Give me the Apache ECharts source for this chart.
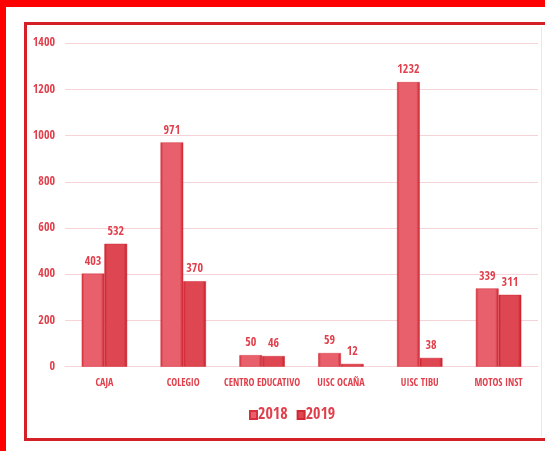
<!DOCTYPE html>
<html><head><meta charset="utf-8">
<script src="https://cdn.jsdelivr.net/npm/echarts@6/dist/echarts.min.js"></script>
<style>html,body{margin:0;padding:0;background:#fff;}#c{width:545px;height:451px;}</style>
</head><body><div id="c"></div>
<script>
const categories = ['CAJA','COLEGIO','CENTRO EDUCATIVO','UISC OCAÑA','UISC TIBU','MOTOS INST'];
const values2018 = [403, 971, 50, 59, 1232, 339];
const values2019 = [532, 370, 46, 12, 38, 311];
const yTicks = {min: 0, max: 1400, interval: 200};

const font = '"Open Sans Condensed","Roboto Condensed",sans-serif';
const txt = '#E0404C';
function grad(l, m, r) {
  return new echarts.graphic.LinearGradient(0, 0, 1, 0, [
    {offset: 0, color: l}, {offset: 0.12, color: m}, {offset: 0.85, color: m}, {offset: 1, color: r}
  ]);
}
const chart = echarts.init(document.getElementById('c'), null, {renderer: 'canvas'});
chart.setOption({
  animation: false,
  backgroundColor: '#fff',
  textStyle: {fontFamily: font},
  grid: {left: 65, right: 7, top: 43.3, bottom: 84.3, containLabel: false},
  graphic: [
    {type: 'rect', shape: {x: 0, y: 0, width: 545, height: 7}, style: {fill: '#FF0000'}, silent: true},
    {type: 'rect', shape: {x: 0, y: 0, width: 6, height: 451}, style: {fill: '#FF0000'}, silent: true},
    {type: 'rect', shape: {x: 25.5, y: 23.5, width: 560, height: 416}, style: {fill: 'none', stroke: '#D42027', lineWidth: 3}, silent: true},
    {type: 'line', shape: {x1: 541.5, y1: 27, x2: 541.5, y2: 437}, style: {stroke: '#F7E3E5', lineWidth: 1}, silent: true}
  ],
  legend: {
    top: 407, left: 249, padding: 0, itemWidth: 7, itemHeight: 8, itemGap: 9,
    icon: 'rect',
    textStyle: {color: txt, fontSize: 16, lineHeight: 16, fontWeight: 'bold', fontFamily: font, padding: [0, 0, 0, -4]},
    data: ['2018', '2019']
  },
  xAxis: {
    type: 'category', data: categories,
    axisLine: {lineStyle: {color: '#F5D3D6'}},
    axisTick: {show: false},
    axisLabel: {color: txt, fontSize: 10, fontWeight: 'bold', fontFamily: font, margin: 12, interval: 0}
  },
  yAxis: {
    type: 'value', min: yTicks.min, max: yTicks.max, interval: yTicks.interval,
    axisLine: {show: false}, axisTick: {show: false},
    axisLabel: {color: txt, fontSize: 12, fontWeight: 'bold', fontFamily: font, margin: 10, formatter: v => String(v)},
    splitLine: {lineStyle: {color: '#F5D3D6', width: 1}}
  },
  series: [
    {name: '2018', type: 'bar', data: values2018, barGap: '0%', barCategoryGap: '42.4%',
      itemStyle: {color: grad('#D22C38', '#E7606B', '#C8202C'), borderColor: '#D8303C', borderWidth: 0.5},
      label: {show: true, position: 'top', distance: 6, color: txt, fontSize: 12, fontWeight: 'bold', fontFamily: font}},
    {name: '2019', type: 'bar', data: values2019,
      itemStyle: {color: grad('#C8202C', '#DE4651', '#C41C28'), borderColor: '#D02834', borderWidth: 0.5},
      label: {show: true, position: 'top', distance: 6, color: txt, fontSize: 12, fontWeight: 'bold', fontFamily: font}}
  ]
});
</script></body></html>
